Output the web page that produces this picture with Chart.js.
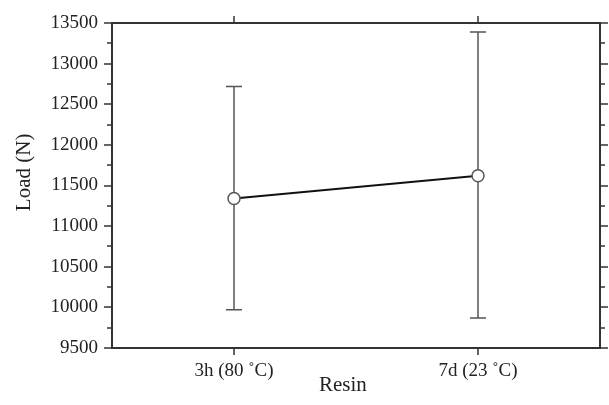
<!DOCTYPE html>
<html>
<head>
<meta charset="utf-8">
<script src="https://cdn.jsdelivr.net/npm/chart.js@4.4.1/dist/chart.umd.min.js"></script>
<style>
  html, body { margin: 0; padding: 0; background: #fff; }
  #wrap { width: 609px; height: 405px; }
</style>
</head>
<body>
<div id="wrap"><canvas id="c" width="609" height="405"></canvas></div>
<script>
const categories = ["3h (80 \u02DAC)", "7d (23 \u02DAC)"];
const meanLoad = [11340, 11620];
const errLow = [9970, 9870];
const errHigh = [12720, 13390];
const yTicks = [9500, 10000, 10500, 11000, 11500, 12000, 12500, 13000, 13500];

const FONT = "'Liberation Serif', 'Times New Roman', serif";
const AXIS = '#333333';

const frameAndBars = {
  id: 'frameAndBars',
  beforeDatasetsDraw(chart) {
    const ctx = chart.ctx;
    const x = chart.scales.x, y = chart.scales.y;
    ctx.save();
    ctx.strokeStyle = '#555555';
    ctx.lineWidth = 1.5;
    for (let i = 0; i < categories.length; i++) {
      const px = x.getPixelForValue(i);
      const yl = y.getPixelForValue(errLow[i]);
      const yh = y.getPixelForValue(errHigh[i]);
      ctx.beginPath();
      ctx.moveTo(px, yl); ctx.lineTo(px, yh);
      ctx.moveTo(px - 8, yl); ctx.lineTo(px + 8, yl);
      ctx.moveTo(px - 8, yh); ctx.lineTo(px + 8, yh);
      ctx.stroke();
    }
    ctx.restore();
  },
  afterDraw(chart) {
    const ctx = chart.ctx;
    const a = chart.chartArea;
    const x = chart.scales.x, y = chart.scales.y;
    ctx.save();
    ctx.strokeStyle = AXIS;
    ctx.lineWidth = 2;
    ctx.beginPath();
    ctx.rect(a.left, a.top, a.right - a.left, a.bottom - a.top);
    ctx.stroke();
    ctx.lineWidth = 1.5;
    ctx.beginPath();
    for (let v = yTicks[0]; v <= yTicks[yTicks.length - 1]; v += 250) {
      const py = Math.round(y.getPixelForValue(v));
      const major = (v % 500) === 0;
      const len = major ? 8 : 5;
      ctx.moveTo(a.left, py); ctx.lineTo(a.left - len, py);
      ctx.moveTo(a.right, py); ctx.lineTo(a.right + len, py);
    }
    for (let i = 0; i < categories.length; i++) {
      const px = Math.round(x.getPixelForValue(i));
      ctx.moveTo(px, a.bottom); ctx.lineTo(px, a.bottom + 7);
      ctx.moveTo(px, a.top); ctx.lineTo(px, a.top - 7);
    }
    ctx.stroke();
    ctx.restore();
  }
};

new Chart(document.getElementById('c'), {
  type: 'line',
  data: {
    labels: categories,
    datasets: [{
      data: meanLoad,
      borderColor: '#111111',
      borderWidth: 2,
      pointRadius: 6,
      pointBackgroundColor: '#ffffff',
      pointBorderColor: '#555555',
      pointBorderWidth: 1.5,
      tension: 0
    }]
  },
  options: {
    responsive: false,
    animation: false,
    events: [],
    layout: { padding: { top: 23, right: 9, left: 0, bottom: 0 } },
    plugins: { legend: { display: false }, tooltip: { enabled: false } },
    scales: {
      x: {
        type: 'category',
        offset: true,
        grid: { display: true, drawOnChartArea: false, color: 'rgba(0,0,0,0)', tickLength: 7 },
        border: { display: false },
        ticks: { font: { family: FONT, size: 19 }, color: '#222', padding: 5, maxRotation: 0 },
        title: { display: true, text: 'Resin\u2002\u2002 ', font: { family: FONT, size: 21 }, color: '#222', padding: { top: 0, bottom: 7 } },
        afterFit(s) { s.height = 57; }
      },
      y: {
        min: 9500,
        max: 13500,
        afterBuildTicks(s) { s.ticks = yTicks.map(v => ({ value: v })); },
        grid: { display: true, drawOnChartArea: false, color: 'rgba(0,0,0,0)', tickLength: 7 },
        border: { display: false },
        ticks: { font: { family: FONT, size: 19 }, color: '#222', padding: 7, callback: (v) => String(v) },
        title: { display: true, text: '\u2002\u2002 Load (N)', font: { family: FONT, size: 21 }, color: '#222', padding: { top: 12, bottom: 0 } },
        afterFit(s) { s.width = 112; }
      }
    }
  },
  plugins: [frameAndBars]
});
</script>
</body>
</html>
